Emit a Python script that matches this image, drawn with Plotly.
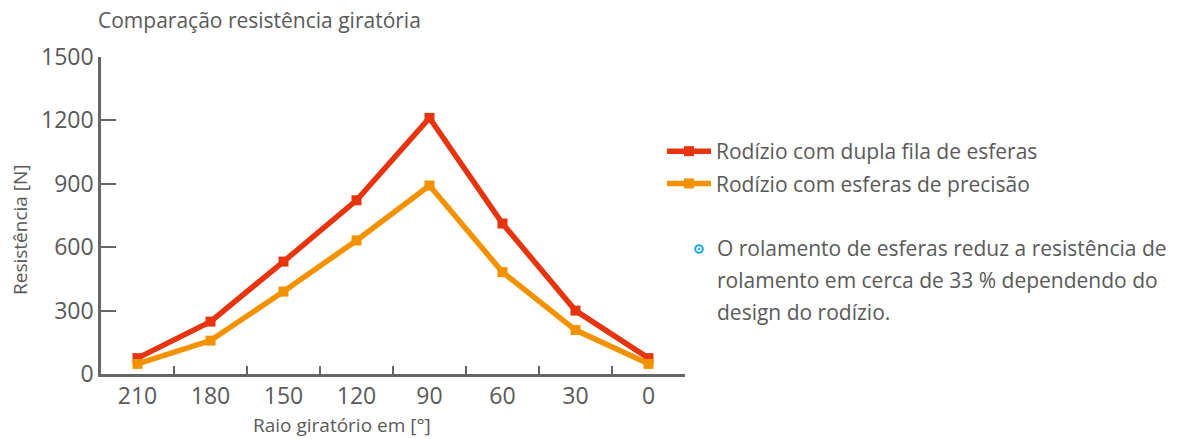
import plotly.graph_objects as go

categories = ["210", "180", "150", "120", "90", "60", "30", "0"]
dupla_fila = [75, 248, 532, 822, 1212, 712, 300, 75]
precisao = [48, 158, 390, 632, 892, 482, 208, 48]
y_ticks = [0, 300, 600, 900, 1200, 1500]

title_text = "Comparação resistência giratória"
x_title = "Raio giratório em [°]"
y_title = "Resistência [N]"
series_names = ["Rodízio com dupla fila de esferas", "Rodízio com esferas de precisão"]
note_lines = ["O rolamento de esferas reduz a resistência de",
              "rolamento em cerca de 33 % dependendo do",
              "design do rodízio."]

RED = "#E6340F"
ORANGE = "#F39200"
TXT = "#595959"
AX = "#666666"
FONT = "Open Sans"

L, R, T, B = 101, 685, 57, 374
W, H = 1177, 439
PW, PH = R - L, B - T


def px_x(p):
    return (p - L) / PW


def px_y(p):
    return (B - p) / PH


fig = go.Figure()
for i, (name, vals, col) in enumerate([(series_names[0], dupla_fila, RED), (series_names[1], precisao, ORANGE)]):
    fig.add_trace(go.Scatter(
        x=categories, y=vals, name=name, mode="lines+markers",
        legendgroup=f"g{i}",
        line=dict(color=col, width=5.5),
        marker=dict(symbol="square", size=10, color=col),
    ))

fig.update_layout(
    width=W, height=H,
    margin=dict(l=L, r=W - R, t=T, b=H - B, autoexpand=False),
    paper_bgcolor="white", plot_bgcolor="white",
    font=dict(family=FONT, color=TXT),
    showlegend=True,
    legend=dict(x=px_x(662), y=px_y(131), xanchor="left", yanchor="top",
                font=dict(size=21, color=TXT, family=FONT),
                bgcolor="rgba(0,0,0,0)", itemwidth=44,
                tracegroupgap=2),
)
fig.update_xaxes(
    type="category", range=[-0.5, 7.5], automargin=False,
    showline=True, linecolor=AX, linewidth=2.5,
    ticks="inside", ticklen=8, tickwidth=2, tickcolor=AX,
    tickson="boundaries",
    tickfont=dict(size=23, color=TXT),
    showgrid=False, zeroline=False,
)
fig.update_yaxes(
    range=[0, 1500], tickvals=y_ticks, automargin=False,
    showline=True, linecolor=AX, linewidth=2.5,
    ticks="inside", ticklen=15, tickwidth=2, tickcolor=AX,
    tickfont=dict(size=23, color=TXT),
    showgrid=False, zeroline=False,
)

fig.add_annotation(text=title_text, xref="paper", yref="paper",
                   x=0.0, y=1.0, xshift=-5, yshift=T - 20, xanchor="left", yanchor="middle",
                   showarrow=False, font=dict(size=21, color=TXT))
fig.add_annotation(text=x_title, xref="paper", yref="paper",
                   x=px_x(342), y=px_y(425), xanchor="center", yanchor="middle",
                   showarrow=False, borderpad=0, font=dict(size=19, color=TXT))
fig.add_annotation(text=y_title, xref="paper", yref="paper", textangle=-90,
                   x=px_x(20), y=px_y(230), xanchor="center", yanchor="middle",
                   showarrow=False, font=dict(size=19, color=TXT))

note_y_px = [248, 280, 312]
for txt, ypx in zip(note_lines, note_y_px):
    fig.add_annotation(text=txt, xref="paper", yref="paper",
                       x=px_x(717), y=px_y(ypx), xshift=-2,
                       xanchor="left", yanchor="middle", showarrow=False,
                       font=dict(size=21, color=TXT))

# bullet marker
bx, by = px_x(699), px_y(249)
fig.add_shape(type="circle", xref="paper", yref="paper", xsizemode="pixel", ysizemode="pixel",
              xanchor=bx, yanchor=by, x0=-3.8, x1=3.8, y0=-3.8, y1=3.8,
              line=dict(color="#19A9E1", width=2))
fig.add_shape(type="circle", xref="paper", yref="paper", xsizemode="pixel", ysizemode="pixel",
              xanchor=bx, yanchor=by, x0=-1.1, x1=1.1, y0=-1.1, y1=1.1,
              line=dict(color="#19A9E1", width=0.5), fillcolor="#19A9E1")

fig.write_html("out.html", config={"displayModeBar": False},
               post_script="document.body.style.margin='0';document.body.style.padding='0';")
